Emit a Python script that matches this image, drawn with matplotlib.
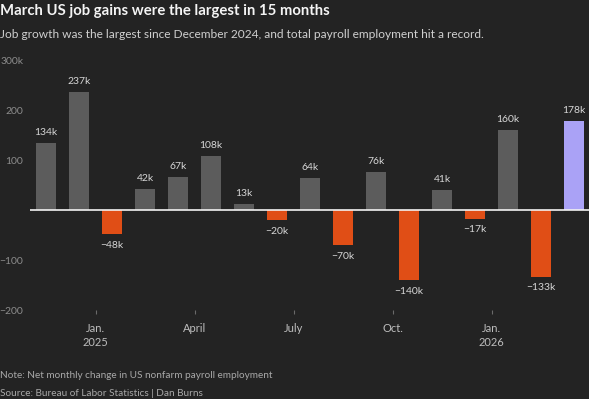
import matplotlib.pyplot as plt
import numpy as np

# monthly net change in payrolls, thousands (Nov 2024 .. Mar 2026)
months = ['Nov 2024', 'Dec 2024', 'Jan 2025', 'Feb 2025', 'Mar 2025', 'Apr 2025',
          'May 2025', 'Jun 2025', 'Jul 2025', 'Aug 2025', 'Sep 2025', 'Oct 2025',
          'Nov 2025', 'Dec 2025', 'Jan 2026', 'Feb 2026', 'Mar 2026']
change = [134, 237, -48, 42, 67, 108, 13, -20, 64, -70, 76, -140, 41, -17, 160, -133, 178]

# quarter tick labels (placed at start of Jan/Apr/Jul/Oct/Jan)
tick_months = ['Jan 2025', 'Apr 2025', 'Jul 2025', 'Oct 2025', 'Jan 2026']
tick_labels = ['Jan.\n2025', 'April', 'July', 'Oct.', 'Jan.\n2026']
ytick_vals = [300, 200, 100, -100, -200]
ytick_labels = ['300k', '200', '100', '\u2212100', '\u2212200']

bg = '#232323'
gray = '#5c5c5c'
orange = '#e04e16'
purple = '#aaa2f6'

plt.rcParams['font.family'] = ['Lato', 'DejaVu Sans']

W, H = 589, 399
fig = plt.figure(figsize=(W / 100, H / 100), dpi=100, facecolor=bg)

# axes placed in pixel terms
left, right, top, bottom = 30, 589, 60, 310
ax = fig.add_axes([left / W, 1 - bottom / H, (right - left) / W, (bottom - top) / H])
ax.set_facecolor(bg)

x = np.arange(len(months))
colors = []
for i, v in enumerate(change):
    if i == len(change) - 1:
        colors.append(purple)
    elif v < 0:
        colors.append(orange)
    else:
        colors.append(gray)

ax.bar(x, change, width=0.63, color=colors, zorder=2)
ax.axhline(0, color='#f2f2f2', lw=1.2, zorder=3)

for xi, v in zip(x, change):
    txt = f'{v}k' if v >= 0 else f'\u2212{-v}k'
    if v >= 0:
        ax.annotate(txt, (xi, v), xytext=(0, 4), textcoords='offset points',
                    ha='center', va='bottom', fontsize=7.5, color='#d6d6d6')
    else:
        ax.annotate(txt, (xi, v), xytext=(0, -5), textcoords='offset points',
                    ha='center', va='top', fontsize=7.5, color='#d6d6d6')

ax.set_xlim(-(46 - left) / 33, (right - 46) / 33)
ax.set_ylim(-200, 300)

tick_pos = [months.index(m) - 0.5 for m in tick_months]
ax.set_xticks(tick_pos)
ax.set_xticklabels(tick_labels, fontsize=8, color='#bdbdbd', linespacing=1.3)
ax.tick_params(axis='x', length=3, width=0.8, color='#6a6a6a', pad=6.5)

ax.set_yticks(ytick_vals)
ax.set_yticklabels(ytick_labels, fontsize=7.5, color='#8c8c8c')
ax.tick_params(axis='y', length=0, pad=5)

for s in ax.spines.values():
    s.set_visible(False)

fig.text(0, 1 - 11 / H, 'March US job gains were the largest in 15 months',
         fontsize=10.7, fontweight='bold', color='#f4f4f4', va='center', ha='left')
fig.text(0, 1 - 34 / H, 'Job growth was the largest since December 2024, and total payroll employment hit a record.',
         fontsize=8.6, color='#d0d0d0', va='center', ha='left')
fig.text(0, 1 - 375 / H, 'Note: Net monthly change in US nonfarm payroll employment',
         fontsize=7.2, color='#a8a8a8', va='center', ha='left')
fig.text(0, 1 - 393 / H, 'Source: Bureau of Labor Statistics | Dan Burns',
         fontsize=7.2, color='#a8a8a8', va='center', ha='left')

fig.savefig('out.png', dpi=100, facecolor=bg)
